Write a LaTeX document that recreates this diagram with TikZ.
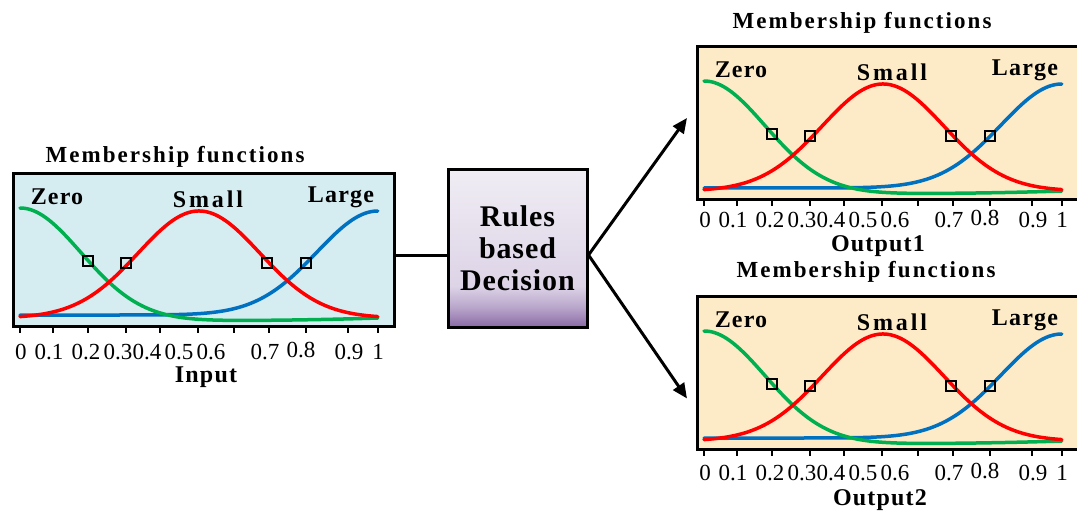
\documentclass[tikz,border=0pt]{standalone}
\usepackage{fontspec}
\setmainfont{Liberation Serif}
\usetikzlibrary{arrows.meta}
\definecolor{inblue}{HTML}{D5ECF1}
\definecolor{outyel}{HTML}{FDEBC8}
\definecolor{mfgreen}{HTML}{00B050}
\definecolor{mfred}{HTML}{FF0000}
\definecolor{mfblue}{HTML}{0070C0}
\definecolor{lavtop}{HTML}{F0EDF4}
\definecolor{lavmid}{HTML}{DDD4E7}
\definecolor{lavbot}{HTML}{8A6AA6}
\pgfdeclareverticalshading{rulesshade}{100bp}{color(0bp)=(lavbot); color(25bp)=(lavbot); color(31bp)=(lavmid!55!lavbot); color(38bp)=(lavmid); color(75bp)=(lavtop); color(100bp)=(lavtop)}
\tikzset{
  panelbox/.style={draw, line width=3pt, inner sep=0pt, anchor=north west, minimum height=153pt},
  mfcurve/.style={line width=3.5pt, line cap=round},
  sqmark/.style={draw, line width=1.5pt, minimum size=10pt, inner sep=0pt},
  tickmark/.style={line width=2.5pt},
  titletext/.style={inner sep=0pt, font=\fontsize{23}{26}\selectfont\bfseries\addfontfeature{LetterSpace=9}},
  fnlabel/.style={inner sep=0pt, font=\fontsize{24}{26}\selectfont\bfseries\addfontfeature{LetterSpace=5}},
  ticklabel/.style={inner sep=0pt, font=\fontsize{23}{26}\selectfont},
  axisname/.style={inner sep=0pt, font=\fontsize{24}{26}\selectfont\bfseries\addfontfeature{LetterSpace=5}},
  rulesbox/.style={draw, line width=3pt, shading=rulesshade, minimum width=139pt, minimum height=158pt, align=center, inner sep=0pt,
    font=\fontsize{30}{32}\selectfont\bfseries\addfontfeature{LetterSpace=3}},
  conn/.style={line width=3pt},
  arr/.style={line width=3pt, -{Triangle[length=15pt,width=13pt]}}
}
% #1 x, #2 y, #3 fill, #4 box width, #5 title pos, #6 prefix, #7 axis name, #8 axis name pos, #9 tick label y
\newcommand\mfpanel[9]{%
\begin{scope}[shift={(#1,#2)}]
  \node[panelbox, fill=#3, minimum width=#4] (#6box) at (0,0) {};
  \node[titletext] (#6title) at #5 {Membership functions};
  \draw[mfcurve, mfblue] plot[domain=0:1, samples=80, smooth] ({8+358*\x},{143-104*exp(-((\x-1)*(\x-1))/0.0578)});
  \draw[mfcurve, mfgreen] plot[domain=0:1, samples=80, smooth] ({8+358*\x},{149-3*\x*\x*\x*\x-113*exp(-(\x*\x)/0.0578)});
  \draw[mfcurve, mfred] plot[domain=0:1, samples=80, smooth] ({8+358*\x},{146-107*exp(-((\x-0.5)*(\x-0.5))/0.0578)});
  \node[sqmark] (#6sqa) at (76,89) {};
  \node[sqmark] (#6sqb) at (114,91) {};
  \node[sqmark] (#6sqc) at (255,91) {};
  \node[sqmark] (#6sqd) at (294,91) {};
  \node[fnlabel] (#6zero) at (45,25) {Zero};
  \node[fnlabel, font=\fontsize{24}{26}\selectfont\bfseries\addfontfeature{LetterSpace=12}] (#6small) at (196,27) {Small};
  \node[fnlabel] (#6large) at (329,25) {Large};
  \foreach \tx in {8,41,76,114,148,186,222,257,294,336,366}
    \draw[tickmark] (\tx,153) -- (\tx,161);
  \node[ticklabel] (#6la) at (9,#9) {0};
  \node[ticklabel] (#6lb) at (37,#9) {0.1};
  \node[ticklabel] (#6lc) at (74,#9) {0.2};
  \node[ticklabel] (#6ld) at (106,#9) {0.3};
  \node[ticklabel] (#6le) at (135,#9) {0.4};
  \node[ticklabel] (#6lf) at (167,#9) {0.5};
  \node[ticklabel] (#6lg) at (199,#9) {0.6};
  \node[ticklabel] (#6lh) at (253,#9) {0.7};
  \node[ticklabel] (#6li) at (289,#9-2) {0.8};
  \node[ticklabel] (#6lj) at (337,#9) {0.9};
  \node[ticklabel] (#6lk) at (366,#9) {1};
  \node[axisname] (#6name) at #8 {#7};
\end{scope}}
\begin{document}
\begin{tikzpicture}[x=1pt, y=-1pt]
\useasboundingbox (0,0) rectangle (1077,511);
\begin{scope}
\clip (0,0) rectangle (1077,511);
\mfpanel{12}{172}{inblue}{381pt}{(163,-15)}{in}{Input}{(194,205)}{180}
\mfpanel{696}{45}{outyel}{390pt}{(166,-22)}{oa}{Output1}{(182,201)}{175}
\mfpanel{696}{295}{outyel}{390pt}{(170,-23)}{ob}{Output2}{(184,205)}{178}
\end{scope}
\node[rulesbox] (rules) at (517.5,248) {Rules\\based\\Decision};
\coordinate (jn) at (0,255);
\draw[conn] (inbox.east |- jn) -- (rules.west |- jn);
\draw[arr] (rules.east |- jn) -- ([xshift=-9pt,yshift=5pt]oabox.west);
\draw[arr] (rules.east |- jn) -- ([xshift=-9pt,yshift=-25.5pt]obbox.west);
\end{tikzpicture}
\end{document}
